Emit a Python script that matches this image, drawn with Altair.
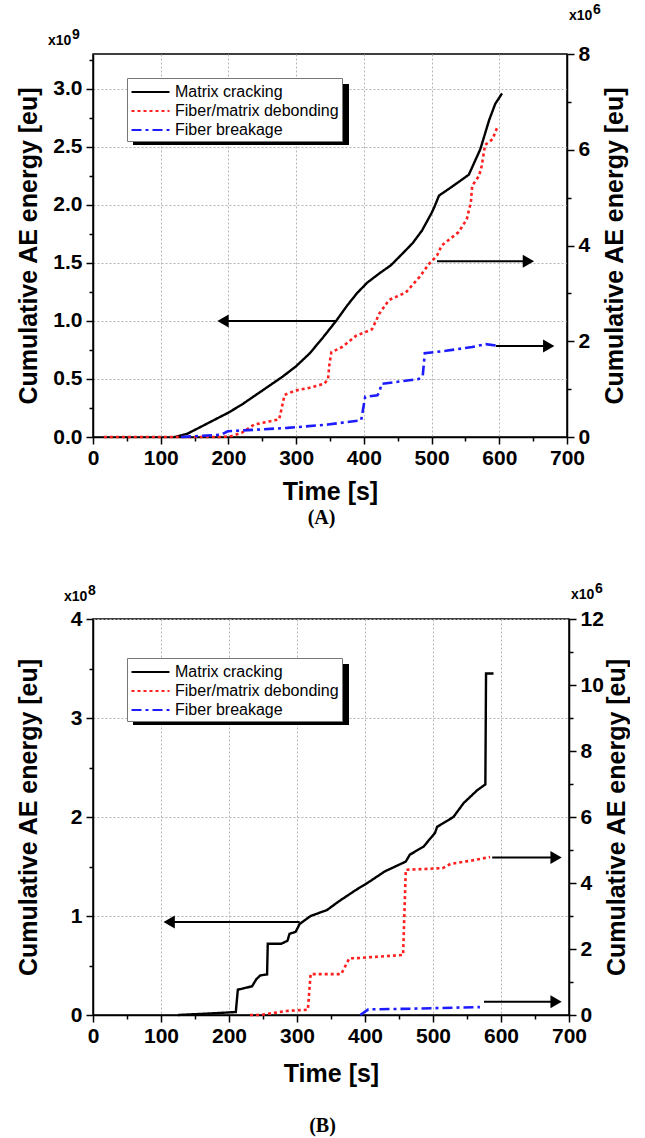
import altair as alt
import pandas as pd

SERIES = ["Matrix cracking", "Fiber/matrix debonding", "Fiber breakage"]
COLORS = ["#000000", "#ff1f1f", "#1c1cff"]
DASHES = [[1, 0], [3, 3], [10, 4, 3, 4]]

# ---------------- (A) ----------------
A_MC_T = [120, 125, 140, 160, 180, 200, 220, 240, 260, 280, 300, 320, 340, 359, 375, 390, 405,
          423, 440, 457, 472, 486, 500, 504, 511, 531, 555, 572, 585, 594, 604]
A_MC_Y = [0, 0.005, 0.03, 0.09, 0.15, 0.21, 0.28, 0.36, 0.44, 0.52, 0.61, 0.72, 0.86, 1.0, 1.13, 1.24, 1.33,
          1.41, 1.48, 1.58, 1.67, 1.78, 1.93, 1.98, 2.08, 2.16, 2.26, 2.48, 2.73, 2.87, 2.96]   # x10^9
A_FD_T = [16, 190, 205, 220, 238, 262, 275, 283, 299, 320, 341, 347, 349, 352, 368, 388, 412, 423, 437,
          462, 482, 496, 508, 515, 540, 552, 558, 560, 570, 574, 579, 590, 597]
A_FD_Y = [0, 0, 0.02, 0.09, 0.26, 0.33, 0.37, 0.88, 0.97, 1.03, 1.11, 1.2, 1.5, 1.77, 1.88, 2.11, 2.25, 2.58, 2.86,
          3.02, 3.34, 3.61, 3.79, 4.0, 4.28, 4.55, 4.9, 5.25, 5.45, 5.66, 6.1, 6.22, 6.47]      # x10^6
A_FB_T = [130, 190, 199, 287, 347, 396, 402, 420, 423, 426, 481, 487, 490, 521, 560, 580, 595]
A_FB_Y = [0, 0.05, 0.12, 0.19, 0.26, 0.35, 0.84, 0.87, 0.94, 1.11, 1.21, 1.28, 1.75, 1.8, 1.88, 1.94, 1.91]
A_ARL_Y, A_ARL_X0, A_ARL_X1 = [1.0], [359], [192]
A_ARR_Y, A_ARR_X0, A_ARR_X1 = [3.67, 1.9], [508, 595], [643, 673]

# ---------------- (B) ----------------
B_MC_T = [125, 179, 210, 213, 222, 234, 240, 246, 256, 257, 277, 286, 289, 298, 304, 320, 344, 362, 386,
          405, 429, 460, 466, 486, 503, 506, 530, 545, 565, 577, 578, 589]
B_MC_Y = [0, 0.018, 0.03, 0.256, 0.27, 0.29, 0.36, 0.4, 0.41, 0.72, 0.72, 0.75, 0.82, 0.84, 0.92, 1.0, 1.06, 1.15,
          1.26, 1.34, 1.45, 1.55, 1.62, 1.7, 1.84, 1.9, 2.0, 2.14, 2.27, 2.33, 3.45, 3.45]     # x10^8
B_FD_T = [231, 246, 271, 283, 316, 320, 365, 377, 386, 456, 460, 514, 526, 557, 584]
B_FD_Y = [0, 0, 0.08, 0.12, 0.16, 1.24, 1.24, 1.72, 1.72, 1.82, 4.4, 4.45, 4.58, 4.68, 4.79]   # x10^6
B_FB_T = [393, 405, 466, 569]
B_FB_Y = [0, 0.17, 0.19, 0.24]
B_ARL_Y, B_ARL_X0, B_ARL_X1 = [0.94], [304], [112]
B_ARR_Y, B_ARR_X0, B_ARR_X1 = [4.77, 0.4], [587, 575], [681, 681]

FONT = "Liberation Sans"
GRID = "#b4b4b4"


def x_axis(title_pad):
    test = "datum.value % 100 === 0"
    return alt.Axis(values=list(range(0, 701, 50)), labelExpr=f"{test} ? datum.label : ''",
                    tickSize={"condition": {"test": test, "value": 7}, "value": 4},
                    gridColor={"condition": {"test": test, "value": GRID}, "value": "transparent"},
                    grid=True, gridDash=[2, 2], gridWidth=1,
                    labelFlush=False, labelOverlap=False, labelPadding=3, titlePadding=title_pad)


def y_axis(values, test, fmt, orient, grid, title_x):
    return alt.Axis(values=values, orient=orient,
                    labelExpr=f"({test}) ? format(datum.value, '{fmt}') : ''",
                    tickSize={"condition": {"test": test, "value": 7}, "value": 4},
                    grid=grid, gridDash=[2, 2], gridWidth=1,
                    gridColor={"condition": {"test": test, "value": GRID}, "value": "transparent"},
                    labelFlush=False, labelOverlap=False, labelPadding=4,
                    titleX=title_x, titleAngle=270, titleBaseline="middle")


def panel(W, H, mc_t, mc_y, fd_t, fd_y, fb_t, fb_y, arl, arr, left_dom, left_vals, left_test, left_fmt,
          right_dom, right_vals, right_test, left_exp, right_exp, exp_pos, leg_pos, leg_size, caption,
          xtitle_pad, cap_offset):
    xenc = lambda f: alt.X(f"{f}:Q", title="Time [s]", scale=alt.Scale(domain=[0, 700], nice=False),
                           axis=x_axis(xtitle_pad))
    yl = alt.Y("y:Q", title="Cumulative AE energy [eu]", scale=alt.Scale(domain=left_dom, nice=False),
               axis=y_axis(left_vals, left_test, left_fmt, "left", True, -65))
    yr = alt.Y("y:Q", title="Cumulative AE energy [eu]", scale=alt.Scale(domain=right_dom, nice=False),
               axis=y_axis(right_vals, right_test, "d", "right", False, 47))
    leg = alt.Legend(title=None, orient="none", legendX=leg_pos[0], legendY=leg_pos[1], fillColor="white",
                     strokeColor="#777777", padding=3, labelFont=FONT, labelFontSize=16, labelColor="black",
                     symbolType="M-1,0L3,0", symbolSize=361, symbolStrokeWidth=2.2, rowPadding=0,
                     labelLimit=400, labelOffset=23)
    col = alt.Color("series:N", scale=alt.Scale(domain=SERIES, range=COLORS), legend=leg)
    dash = alt.StrokeDash("series:N", scale=alt.Scale(domain=SERIES, range=DASHES), legend=leg)

    mc = pd.DataFrame({"t": mc_t, "y": mc_y, "series": SERIES[0]})
    rb = pd.concat([pd.DataFrame({"t": fd_t, "y": fd_y, "series": SERIES[1]}),
                    pd.DataFrame({"t": fb_t, "y": fb_y, "series": SERIES[2]})])
    al = pd.DataFrame({"y": arl[0], "xs": arl[1], "xe": arl[2], "shape": "triangle-left"})
    ar = pd.DataFrame({"y": arr[0], "xs": arr[1], "xe": arr[2], "shape": "triangle-right"})

    shadow = alt.Chart(pd.DataFrame({"a": [0]})).mark_rect(color="black").encode(
        x=alt.value(leg_pos[0] + 6), x2=alt.value(leg_pos[0] + leg_size[0] + 6),
        y=alt.value(leg_pos[1] + 6), y2=alt.value(leg_pos[1] + leg_size[1] + 6))

    def txt(s, x, y, size):
        return alt.Chart(pd.DataFrame({"a": [0]})).mark_text(
            text=s, font=FONT, fontWeight="bold", fontSize=size, align="left", baseline="middle",
            color="black").encode(x=alt.value(x), y=alt.value(y))

    (lx, ly, rx, ry) = exp_pos
    texts = [txt("x10", lx, ly, 14), txt(left_exp, lx + 24, ly - 6, 14),
             txt("x10", W + rx, ry, 14), txt(right_exp, W + rx + 24, ry - 6, 14)]

    left = alt.layer(
        shadow,
        alt.Chart(mc).mark_line(strokeWidth=2.4).encode(x=xenc("t"), y=yl, color=col, strokeDash=dash),
        alt.Chart(al).mark_rule(strokeWidth=2, color="black").encode(x=xenc("xs"), x2="xe:Q", y=yl),
        alt.Chart(al).mark_point(filled=True, size=170, color="black", opacity=1).encode(
            x=xenc("xe"), y=yl, shape=alt.Shape("shape:N", scale=None)),
        *texts,
    )
    right = alt.layer(
        alt.Chart(rb).mark_line(strokeWidth=2.6).encode(x=xenc("t"), y=yr, color=col, strokeDash=dash),
        alt.Chart(ar).mark_rule(strokeWidth=2, color="black").encode(x=xenc("xs"), x2="xe:Q", y=yr),
        alt.Chart(ar).mark_point(filled=True, size=170, color="black", opacity=1).encode(
            x=xenc("xe"), y=yr, shape=alt.Shape("shape:N", scale=None)),
    )
    return alt.layer(left, right).resolve_scale(y="independent").properties(
        width=W, height=H,
        title=alt.TitleParams(caption, orient="bottom", anchor="middle", frame="bounds",
                              font="Liberation Serif", fontSize=20, fontWeight="bold", color="black",
                              offset=cap_offset))


WA, HA = 474, 383
WB, HB = 476, 396

chartA = panel(WA, HA, A_MC_T, A_MC_Y, A_FD_T, A_FD_Y, A_FB_T, A_FB_Y,
               (A_ARL_Y, A_ARL_X0, A_ARL_X1), (A_ARR_Y, A_ARR_X0, A_ARR_X1),
               [0, 3.3], [i * 0.25 for i in range(14)], "abs(datum.value*2 - round(datum.value*2)) < 0.001", ".1f",
               [0, 8], list(range(0, 9)), "datum.value % 2 === 0", "9", "6",
               (-45, -13, 2, -38), (34, 24), (216, 61), "(A)", 11, 4)

chartB = panel(WB, HB, B_MC_T, B_MC_Y, B_FD_T, B_FD_Y, B_FB_T, B_FB_Y,
               (B_ARL_Y, B_ARL_X0, B_ARL_X1), (B_ARR_Y, B_ARR_X0, B_ARR_X1),
               [0, 4], [i * 0.5 for i in range(9)], "abs(datum.value - round(datum.value)) < 0.001", ".0f",
               [0, 12], list(range(0, 13)), "datum.value % 2 === 0", "8", "6",
               (-29, -22, 2, -24), (34, 39), (216, 61), "(B)", 15, 30)

chart = alt.vconcat(chartA, chartB, spacing=52).resolve_scale(
    color="independent", strokeDash="independent").resolve_legend(
    color="independent", strokeDash="independent").properties(
    padding={"left": 15, "top": 2, "right": 0, "bottom": 0}, background="white"
).configure_view(stroke="black", strokeWidth=1.5).configure_axis(
    domainColor="black", domainWidth=1.5, tickColor="black", tickWidth=1.5,
    labelFont=FONT, labelFontSize=21, labelFontWeight="bold", labelColor="black",
    titleFont=FONT, titleFontSize=25, titleFontWeight="bold", titleColor="black")

chart.save("out.html", embed_options={"renderer": "svg", "actions": False})
